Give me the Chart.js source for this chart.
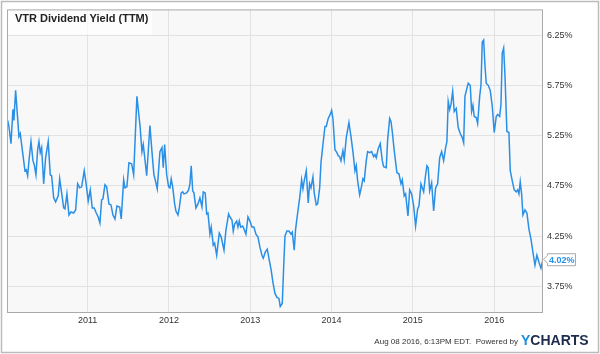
<!DOCTYPE html>
<html>
<head>
<meta charset="utf-8">
<script src="https://cdn.jsdelivr.net/npm/chart.js@4.4.1/dist/chart.umd.min.js"></script>
<style>
  body { margin: 0; background: #fff; }
  #wrap { width: 600px; height: 354px; }
</style>
</head>
<body>
<div id="wrap"><canvas id="yieldChart"></canvas></div>
<script>
// weekly-ish samples, x as decimal year
const years = [
  2010.016, 2010.032, 2010.057, 2010.081, 2010.093, 2010.114, 2010.130, 2010.155, 2010.171, 2010.196,
  2010.229, 2010.245, 2010.262, 2010.278, 2010.303, 2010.327, 2010.343, 2010.364, 2010.385, 2010.401,
  2010.417, 2010.434, 2010.459, 2010.483, 2010.515, 2010.540, 2010.557, 2010.582, 2010.606, 2010.638,
  2010.656, 2010.680, 2010.705, 2010.721, 2010.745, 2010.770, 2010.795, 2010.828, 2010.852, 2010.877,
  2010.902, 2010.926, 2010.958, 2010.983, 2011.007, 2011.032, 2011.057, 2011.081, 2011.106, 2011.130,
  2011.151, 2011.172, 2011.188, 2011.213, 2011.234, 2011.262, 2011.287, 2011.311, 2011.336, 2011.360,
  2011.394, 2011.413, 2011.443, 2011.459, 2011.483, 2011.508, 2011.541, 2011.566, 2011.606, 2011.645,
  2011.668, 2011.684, 2011.701, 2011.726, 2011.766, 2011.791, 2011.815, 2011.831, 2011.856, 2011.889,
  2011.914, 2011.930, 2011.947, 2011.972, 2011.996, 2012.012, 2012.028, 2012.046, 2012.070, 2012.086,
  2012.111, 2012.127, 2012.151, 2012.169, 2012.184, 2012.218, 2012.242, 2012.258, 2012.274, 2012.292,
  2012.307, 2012.332, 2012.357, 2012.381, 2012.406, 2012.422, 2012.446, 2012.464, 2012.480, 2012.504,
  2012.520, 2012.545, 2012.562, 2012.587, 2012.619, 2012.643, 2012.677, 2012.701, 2012.734, 2012.750,
  2012.775, 2012.791, 2012.808, 2012.833, 2012.849, 2012.865, 2012.882, 2012.907, 2012.923, 2012.947,
  2012.972, 2012.996, 2013.021, 2013.045, 2013.070, 2013.095, 2013.119, 2013.144, 2013.160, 2013.185,
  2013.209, 2013.234, 2013.258, 2013.279, 2013.304, 2013.328, 2013.353, 2013.369, 2013.394, 2013.411,
  2013.427, 2013.451, 2013.476, 2013.501, 2013.517, 2013.541, 2013.558, 2013.583, 2013.608, 2013.632,
  2013.648, 2013.664, 2013.689, 2013.713, 2013.730, 2013.747, 2013.771, 2013.787, 2013.812, 2013.829,
  2013.854, 2013.870, 2013.894, 2013.919, 2013.935, 2013.959, 2013.984, 2014.001, 2014.017, 2014.042,
  2014.066, 2014.082, 2014.100, 2014.116, 2014.140, 2014.156, 2014.181, 2014.214, 2014.239, 2014.263,
  2014.288, 2014.304, 2014.321, 2014.346, 2014.370, 2014.386, 2014.402, 2014.427, 2014.444, 2014.469,
  2014.493, 2014.518, 2014.534, 2014.550, 2014.574, 2014.599, 2014.624, 2014.641, 2014.673, 2014.690,
  2014.715, 2014.731, 2014.747, 2014.771, 2014.804, 2014.829, 2014.854, 2014.870, 2014.894, 2014.911,
  2014.940, 2014.961, 2014.985, 2015.010, 2015.034, 2015.059, 2015.075, 2015.100, 2015.133, 2015.157,
  2015.173, 2015.189, 2015.207, 2015.231, 2015.256, 2015.280, 2015.305, 2015.330, 2015.354, 2015.379,
  2015.403, 2015.419, 2015.435, 2015.453, 2015.469, 2015.490, 2015.509, 2015.534, 2015.558, 2015.583,
  2015.608, 2015.625, 2015.641, 2015.665, 2015.681, 2015.706, 2015.723, 2015.739, 2015.755, 2015.780,
  2015.797, 2015.822, 2015.838, 2015.854, 2015.871, 2015.887, 2015.903, 2015.927, 2015.952, 2015.977,
  2016.001, 2016.026, 2016.043, 2016.068, 2016.084, 2016.100, 2016.117, 2016.133, 2016.157, 2016.182,
  2016.198, 2016.223, 2016.247, 2016.272, 2016.289, 2016.305, 2016.321, 2016.338, 2016.354, 2016.379,
  2016.403, 2016.428, 2016.453, 2016.477, 2016.502, 2016.526, 2016.551, 2016.576, 2016.601
];

const yieldPct = [
  5.40, 5.34, 5.17, 5.51, 5.40, 5.70, 5.52, 5.24, 5.27, 5.11,
  4.90, 4.91, 4.85, 5.00, 5.19, 5.00, 4.96, 4.86, 5.11, 5.19,
  5.08, 5.13, 4.77, 5.03, 5.19, 4.86, 4.85, 4.63, 4.59, 4.65,
  4.82, 4.68, 4.53, 4.52, 4.67, 4.46, 4.49, 4.48, 4.51, 4.77,
  4.73, 4.74, 4.90, 4.76, 4.60, 4.71, 4.53, 4.53, 4.48, 4.44,
  4.38, 4.61, 4.62, 4.76, 4.74, 4.57, 4.56, 4.46, 4.42, 4.55,
  4.54, 4.42, 4.81, 4.73, 4.74, 4.98, 4.97, 4.86, 5.64, 5.34,
  5.09, 5.16, 5.04, 4.85, 5.35, 5.09, 4.86, 4.81, 4.72, 5.09,
  5.13, 4.93, 5.16, 4.86, 4.74, 4.73, 4.82, 4.74, 4.57, 4.50,
  4.46, 4.53, 4.68, 4.69, 4.67, 4.68, 4.71, 4.77, 4.95, 4.70,
  4.68, 4.53, 4.57, 4.63, 4.54, 4.69, 4.68, 4.47, 4.48, 4.27,
  4.34, 4.16, 4.18, 4.06, 4.28, 4.24, 4.11, 4.31, 4.47, 4.44,
  4.41, 4.30, 4.37, 4.40, 4.34, 4.40, 4.34, 4.35, 4.32, 4.27,
  4.44, 4.40, 4.34, 4.34, 4.27, 4.24, 4.14, 4.06, 4.03, 4.09,
  4.12, 4.01, 3.91, 3.79, 3.68, 3.64, 3.63, 3.55, 3.58, 3.94,
  4.25, 4.30, 4.30, 4.27, 4.29, 4.11, 4.32, 4.48, 4.63, 4.81,
  4.72, 4.80, 4.90, 4.58, 4.77, 4.73, 4.84, 4.68, 4.56, 4.57,
  4.73, 4.98, 5.16, 5.34, 5.34, 5.42, 5.46, 5.50, 5.42, 5.11,
  5.08, 5.05, 5.04, 5.00, 5.10, 5.01, 5.23, 5.38, 5.24, 5.09,
  4.90, 4.95, 4.80, 4.66, 4.75, 4.82, 4.80, 5.00, 5.09, 5.08,
  5.09, 5.04, 5.06, 5.03, 5.12, 5.17, 5.00, 4.94, 4.93, 5.21,
  5.42, 5.39, 5.29, 5.10, 4.88, 4.87, 4.77, 4.81, 4.65, 4.67,
  4.45, 4.71, 4.67, 4.55, 4.35, 4.52, 4.55, 4.77, 4.69, 4.86,
  4.95, 4.93, 4.70, 4.78, 4.50, 4.73, 4.77, 5.03, 5.09, 5.00,
  5.13, 5.19, 5.59, 5.51, 5.56, 5.69, 5.49, 5.52, 5.33, 5.27,
  5.23, 5.18, 5.64, 5.72, 5.77, 5.75, 5.49, 5.55, 5.44, 5.43,
  5.37, 5.64, 5.75, 6.18, 6.20, 5.95, 5.77, 5.75, 5.70, 5.54,
  5.28, 5.44, 5.46, 5.44, 5.56, 6.07, 6.12, 5.85, 5.29, 5.28,
  4.90, 4.80, 4.71, 4.69, 4.71, 4.67, 4.79, 4.67, 4.46, 4.51,
  4.48, 4.32, 4.22, 4.09, 3.96, 4.06, 3.99, 3.93, 4.02
];

const xTicks = [2011, 2012, 2013, 2014, 2015, 2016];
const yTicks = [3.75, 4.25, 4.75, 5.25, 5.75, 6.25];

const chartTitle = "VTR Dividend Yield (TTM)";
const stamp = "Aug 08 2016, 6:13PM EDT.  Powered by";

const FONT = "'Liberation Sans', Arial, sans-serif";
const LINE_BLUE = "#2a8fe6";

const points = years.map((x, i) => ({ x: x, y: yieldPct[i] }));

const decor = {
  id: "decor",
  beforeDraw(chart) {
    const { ctx, chartArea: a } = chart;
    ctx.save();
    ctx.fillStyle = "#fff";
    ctx.fillRect(0, 0, chart.width, chart.height);
    ctx.fillStyle = "#f8f8f8";
    ctx.fillRect(a.left, a.top, a.right - a.left, a.bottom - a.top);
    ctx.restore();
  },
  beforeDatasetsDraw(chart) {
    const { ctx, chartArea: a } = chart;
    ctx.save();
    // title box
    ctx.fillStyle = "rgba(255,255,255,0.7)";
    ctx.fillRect(a.left, a.top, 145, 25);
    ctx.fillStyle = "#222";
    ctx.font = "bold 11px " + FONT;
    ctx.textBaseline = "middle";
    ctx.fillText(chartTitle, a.left + 8, a.top + 10);
    ctx.restore();
  },
  afterDraw(chart) {
    const { ctx, chartArea: a } = chart;
    ctx.save();
    // plot frame
    ctx.strokeStyle = "#aaa";
    ctx.lineWidth = 1;
    ctx.strokeRect(a.left + 0.5, a.top + 0.5, a.right - a.left - 1, a.bottom - a.top);
    // outer frame
    ctx.strokeStyle = "#bbb";
    ctx.lineWidth = 1.5;
    ctx.strokeRect(1.5, 1.5, chart.width - 3, chart.height - 3);

    // last value callout
    const last = yieldPct[yieldPct.length - 1];
    const py = chart.scales.y.getPixelForValue(last);
    const bx = a.right + 4, bw = 28, bh = 12;
    ctx.beginPath();
    ctx.moveTo(a.right + 0.5, py);
    ctx.lineTo(bx + 0.5, py - 4);
    ctx.lineTo(bx + 0.5, py - bh / 2 + 0.5);
    ctx.lineTo(bx + bw + 0.5, py - bh / 2 + 0.5);
    ctx.lineTo(bx + bw + 0.5, py + bh / 2 + 0.5);
    ctx.lineTo(bx + 0.5, py + bh / 2 + 0.5);
    ctx.lineTo(bx + 0.5, py + 4);
    ctx.closePath();
    ctx.fillStyle = "#fff";
    ctx.fill();
    ctx.strokeStyle = "#aaa";
    ctx.lineWidth = 1;
    ctx.stroke();
    ctx.fillStyle = LINE_BLUE;
    ctx.font = "bold 9px " + FONT;
    ctx.textBaseline = "middle";
    ctx.textAlign = "left";
    ctx.fillText(last.toFixed(2) + "%", bx + 2, py + 1);

    // footer
    ctx.fillStyle = "#333";
    ctx.font = "8px " + FONT;
    ctx.textAlign = "right";
    ctx.fillText(stamp, 518, 342);
    ctx.textAlign = "left";
    ctx.font = "bold 14px " + FONT;
    ctx.fillStyle = "#1a8fe3";
    ctx.fillText("Y", 521, 341);
    const yw = ctx.measureText("Y").width;
    ctx.fillStyle = "#1d2b4c";
    ctx.fillText("CHARTS", 521 + yw, 341);
    ctx.restore();
  }
};

new Chart(document.getElementById("yieldChart"), {
  type: "line",
  data: {
    datasets: [{
      data: points,
      borderColor: LINE_BLUE,
      borderWidth: 1.5,
      pointRadius: 0,
      tension: 0,
      fill: false
    }]
  },
  options: {
    responsive: true,
    maintainAspectRatio: false,
    animation: false,
    layout: { padding: { left: 7, top: 7, right: 0, bottom: 0 } },
    plugins: {
      legend: { display: false },
      title: { display: false },
      tooltip: { enabled: false }
    },
    scales: {
      x: {
        type: "linear",
        position: "bottom",
        min: 2010.008,
        max: 2016.601,
        afterBuildTicks: axis => { axis.ticks = xTicks.map(v => ({ value: v })); },
        afterFit: axis => { axis.height = 42; },
        grid: { color: "#e2e2e2", lineWidth: 1, drawTicks: false },
        border: { display: false },
        ticks: {
          padding: 3,
          maxRotation: 0,
          color: "#333",
          font: { family: FONT, size: 9 },
          callback: v => String(v)
        }
      },
      y: {
        position: "right",
        min: 3.495,
        max: 6.505,
        afterBuildTicks: axis => { axis.ticks = yTicks.map(v => ({ value: v })); },
        afterFit: axis => { axis.width = 57; },
        grid: { color: "#e2e2e2", lineWidth: 1, drawTicks: false },
        border: { display: false },
        ticks: {
          padding: 4,
          color: "#333",
          font: { family: FONT, size: 9 },
          callback: v => v.toFixed(2) + "%"
        }
      }
    }
  },
  plugins: [decor]
});
</script>
</body>
</html>
